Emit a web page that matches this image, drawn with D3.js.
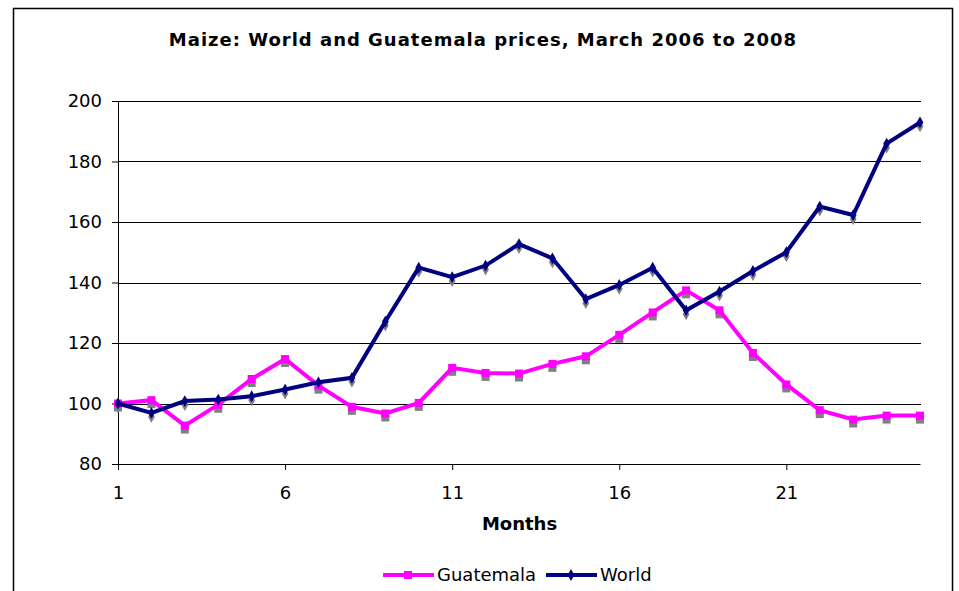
<!DOCTYPE html>
<html>
<head>
<meta charset="utf-8">
<script src="https://cdn.jsdelivr.net/npm/d3@7"></script>
<style>
  body { margin: 0; background: #fff; }
  text { font-family: "DejaVu Sans", Verdana, sans-serif; fill: #000; }
</style>
</head>
<body>
<div id="chart"></div>
<script>
// months 1..25 (March 2006 to March 2008)
var months = d3.range(1, 26);
var xTicks = [1, 6, 11, 16, 21];
var yTicks = [80, 100, 120, 140, 160, 180, 200];

// price index, March 2006 = 100
var guatemala = [100, 101.1, 92.7, 99.6, 108.1, 114.7, 105.9, 98.9, 96.7, 100.2,
                 111.8, 110.1, 109.9, 113.1, 115.6, 122.7, 130.1, 137.4, 130.8, 116.7,
                 106.3, 97.8, 94.7, 96.0, 96.0];
var world = [100, 96.9, 100.8, 101.3, 102.4, 104.6, 107.0, 108.5, 127.1, 144.9,
             141.8, 145.6, 152.7, 148.0, 134.5, 139.2, 144.9, 130.8, 137.0, 143.8,
             150.0, 165.1, 162.3, 185.9, 192.9];

var W = 959, H = 591;
var margin = {top: 101, right: 38, bottom: 127, left: 118};
var width = 921 - margin.left, height = 464 - margin.top;

var svg = d3.select("#chart").append("svg")
    .attr("width", W)
    .attr("height", H);

// outer frame (no bottom edge, it runs off the picture)
svg.append("path")
    .attr("d", "M13.5," + H + "V8.5H952.5V" + H)
    .attr("fill", "none")
    .attr("stroke", "#000")
    .attr("stroke-width", 1.5);

svg.append("text")
    .attr("x", 483)
    .attr("y", 46)
    .attr("text-anchor", "middle")
    .style("font-weight", "bold")
    .style("font-size", "18px")
    .style("letter-spacing", "1px")
    .text("Maize: World and Guatemala prices, March 2006 to 2008");

var g = svg.append("g")
    .attr("transform", "translate(" + margin.left + "," + margin.top + ")");

var x = d3.scaleLinear().domain([1, 25]).range([0, width - 1]);
var y = d3.scaleLinear().domain([80, 200]).range([height, 0]);

// gridlines
g.append("g")
  .selectAll("line")
  .data(yTicks.slice(1))
  .enter().append("line")
    .attr("x1", 0)
    .attr("x2", width)
    .attr("y1", function(d) { return Math.round(y(d)) + 0.5; })
    .attr("y2", function(d) { return Math.round(y(d)) + 0.5; })
    .attr("stroke", "#000")
    .attr("stroke-width", 1);

// y axis
var yAxis = g.append("g")
    .call(d3.axisLeft(y).tickValues(yTicks).tickSize(6).tickPadding(10));
yAxis.selectAll("text").style("font-size", "18px");

// x axis
var xAxis = g.append("g")
    .attr("transform", "translate(0," + height + ")")
    .call(d3.axisBottom(x).tickValues(xTicks).tickSize(6).tickPadding(16).tickSizeOuter(0));
xAxis.selectAll("text").style("font-size", "18px");
g.selectAll(".domain").attr("stroke", "#000");
g.selectAll(".tick line").attr("stroke", "#000");

svg.append("text")
    .attr("x", margin.left + width / 2)
    .attr("y", 530)
    .attr("text-anchor", "middle")
    .style("font-weight", "bold")
    .style("font-size", "18px")
    .text("Months");

var line = d3.line()
    .x(function(d, i) { return x(months[i]); })
    .y(function(d) { return y(d); });

var square = d3.symbol().type(d3.symbolSquare).size(64);
var diamond = d3.symbol().type(d3.symbolDiamond).size(40);

function shadows(data, sym) {
  g.append("g")
    .selectAll("path")
    .data(data)
    .enter().append("path")
      .attr("d", sym)
      .attr("fill", "#808080")
      .attr("transform", function(d, i) { return "translate(" + x(months[i]) + "," + (y(d) + 4) + ")"; });
}
shadows(guatemala, square);
shadows(world, diamond);

function series(data, color, sym) {
  g.append("path")
    .datum(data)
    .attr("d", line)
    .attr("fill", "none")
    .attr("stroke", color)
    .attr("stroke-width", 4)
    .attr("stroke-linejoin", "miter");
  g.append("g")
    .selectAll("path")
    .data(data)
    .enter().append("path")
      .attr("d", sym)
      .attr("fill", color)
      .attr("transform", function(d, i) { return "translate(" + x(months[i]) + "," + y(d) + ")"; });
}
series(guatemala, "#ff00ff", square);
series(world, "#000080", diamond);

// legend
var legend = svg.append("g").attr("transform", "translate(0,575)");
var items = [
  {name: "Guatemala", color: "#ff00ff", sym: square, x: 383},
  {name: "World", color: "#000080", sym: diamond, x: 546}
];
items.forEach(function(it) {
  legend.append("line")
    .attr("x1", it.x).attr("x2", it.x + 51)
    .attr("stroke", it.color).attr("stroke-width", 4);
  legend.append("path")
    .attr("d", it.sym)
    .attr("fill", it.color)
    .attr("transform", "translate(" + (it.x + 25) + ",0)");
  legend.append("text")
    .attr("x", it.x + 54)
    .attr("y", 6)
    .style("font-size", "18px")
    .text(it.name);
});
</script>
</body>
</html>
